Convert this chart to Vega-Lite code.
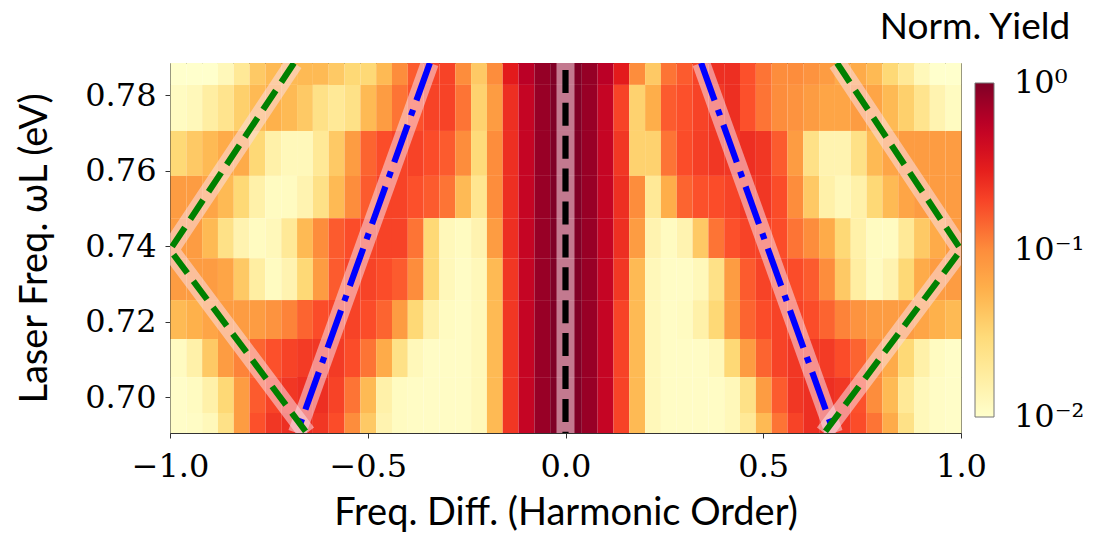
{
  "$schema": "https://vega.github.io/schema/vega-lite/v6.json",
  "width": 791,
  "height": 370,
  "autosize": {"type": "none"},
  "padding": {"left": 170, "top": 63, "right": 136, "bottom": 100},
  "background": "white",
  "config": {
    "view": {"stroke": "#333333", "strokeWidth": 1},
    "font": "Lato"
  },
  "datasets": {
    "bands": [
      {"r": 1, "y0": 0.7827, "y1": 0.7885},
      {"r": 2, "y0": 0.7705, "y1": 0.7827},
      {"r": 3, "y0": 0.7586, "y1": 0.7705},
      {"r": 4, "y0": 0.7474, "y1": 0.7586},
      {"r": 5, "y0": 0.7368, "y1": 0.7474},
      {"r": 6, "y0": 0.7257, "y1": 0.7368},
      {"r": 7, "y0": 0.7154, "y1": 0.7257},
      {"r": 8, "y0": 0.7053, "y1": 0.7154},
      {"r": 9, "y0": 0.6958, "y1": 0.7053},
      {"r": 10, "y0": 0.6905, "y1": 0.6958}
    ],
    "guides": [
      {"line": "c", "kind": "zero", "i": 0, "x": 0, "y": 0.7885},
      {"line": "c", "kind": "zero", "i": 1, "x": 0, "y": 0.6905},
      {"line": "bl", "kind": "inner", "i": 0, "x": -0.343, "y": 0.7885},
      {"line": "bl", "kind": "inner", "i": 1, "x": -0.679, "y": 0.6905},
      {"line": "br", "kind": "inner", "i": 0, "x": 0.343, "y": 0.7885},
      {"line": "br", "kind": "inner", "i": 1, "x": 0.679, "y": 0.6905},
      {"line": "gl", "kind": "outer", "i": 0, "x": -0.6865, "y": 0.7885},
      {"line": "gl", "kind": "outer", "i": 1, "x": -1, "y": 0.739},
      {"line": "gl", "kind": "outer", "i": 2, "x": -0.654, "y": 0.6905},
      {"line": "gr", "kind": "outer", "i": 0, "x": 0.6865, "y": 0.7885},
      {"line": "gr", "kind": "outer", "i": 1, "x": 1, "y": 0.739},
      {"line": "gr", "kind": "outer", "i": 2, "x": 0.654, "y": 0.6905}
    ]
  },
  "data": {"values": [
    {"r":1,"x":-0.98,"v":0.01},{"r":1,"x":-0.94,"v":0.01},{"r":1,"x":-0.9,"v":0.01},{"r":1,"x":-0.86,"v":0.0126},{"r":1,"x":-0.82,"v":0.02},{"r":1,"x":-0.78,"v":0.0398},{"r":1,"x":-0.74,"v":0.0501},{"r":1,"x":-0.7,"v":0.0501},{"r":1,"x":-0.66,"v":0.0501},{"r":1,"x":-0.62,"v":0.0501},
    {"r":1,"x":-0.58,"v":0.0398},{"r":1,"x":-0.54,"v":0.0316},{"r":1,"x":-0.5,"v":0.0316},{"r":1,"x":-0.46,"v":0.0501},{"r":1,"x":-0.42,"v":0.1},{"r":1,"x":-0.38,"v":0.158},{"r":1,"x":-0.34,"v":0.2},{"r":1,"x":-0.3,"v":0.2},{"r":1,"x":-0.26,"v":0.1},{"r":1,"x":-0.22,"v":0.04},
    {"r":1,"x":-0.18,"v":0.1},{"r":1,"x":-0.14,"v":0.316},{"r":1,"x":-0.1,"v":0.575},{"r":1,"x":-0.06,"v":0.82},{"r":1,"x":-0.02,"v":1},{"r":1,"x":0.02,"v":1},{"r":1,"x":0.06,"v":0.82},{"r":1,"x":0.1,"v":0.575},{"r":1,"x":0.14,"v":0.316},{"r":1,"x":0.18,"v":0.1},
    {"r":1,"x":0.22,"v":0.04},{"r":1,"x":0.26,"v":0.126},{"r":1,"x":0.3,"v":0.158},{"r":1,"x":0.34,"v":0.2},{"r":1,"x":0.38,"v":0.251},{"r":1,"x":0.42,"v":0.251},{"r":1,"x":0.46,"v":0.174},{"r":1,"x":0.5,"v":0.126},{"r":1,"x":0.54,"v":0.1},{"r":1,"x":0.58,"v":0.1},
    {"r":1,"x":0.62,"v":0.0912},{"r":1,"x":0.66,"v":0.0794},{"r":1,"x":0.7,"v":0.0631},{"r":1,"x":0.74,"v":0.0631},{"r":1,"x":0.78,"v":0.0501},{"r":1,"x":0.82,"v":0.0316},{"r":1,"x":0.86,"v":0.02},{"r":1,"x":0.9,"v":0.0126},{"r":1,"x":0.94,"v":0.01},{"r":1,"x":0.98,"v":0.01},

    {"r":2,"x":-0.98,"v":0.0115},{"r":2,"x":-0.94,"v":0.0126},{"r":2,"x":-0.9,"v":0.0174},{"r":2,"x":-0.86,"v":0.0229},{"r":2,"x":-0.82,"v":0.0363},{"r":2,"x":-0.78,"v":0.0501},{"r":2,"x":-0.74,"v":0.0575},{"r":2,"x":-0.7,"v":0.0501},{"r":2,"x":-0.66,"v":0.0398},{"r":2,"x":-0.62,"v":0.0251},
    {"r":2,"x":-0.58,"v":0.02},{"r":2,"x":-0.54,"v":0.0251},{"r":2,"x":-0.5,"v":0.0501},{"r":2,"x":-0.46,"v":0.0794},{"r":2,"x":-0.42,"v":0.126},{"r":2,"x":-0.38,"v":0.174},{"r":2,"x":-0.34,"v":0.2},{"r":2,"x":-0.3,"v":0.2},{"r":2,"x":-0.26,"v":0.126},{"r":2,"x":-0.22,"v":0.035},
    {"r":2,"x":-0.18,"v":0.0794},{"r":2,"x":-0.14,"v":0.251},{"r":2,"x":-0.1,"v":0.5},{"r":2,"x":-0.06,"v":0.8},{"r":2,"x":-0.02,"v":1},{"r":2,"x":0.02,"v":1},{"r":2,"x":0.06,"v":0.8},{"r":2,"x":0.1,"v":0.5},{"r":2,"x":0.14,"v":0.2},{"r":2,"x":0.18,"v":0.035},
    {"r":2,"x":0.22,"v":0.06},{"r":2,"x":0.26,"v":0.158},{"r":2,"x":0.3,"v":0.174},{"r":2,"x":0.34,"v":0.2},{"r":2,"x":0.38,"v":0.229},{"r":2,"x":0.42,"v":0.251},{"r":2,"x":0.46,"v":0.174},{"r":2,"x":0.5,"v":0.126},{"r":2,"x":0.54,"v":0.1},{"r":2,"x":0.58,"v":0.0912},
    {"r":2,"x":0.62,"v":0.0794},{"r":2,"x":0.66,"v":0.0692},{"r":2,"x":0.7,"v":0.0692},{"r":2,"x":0.74,"v":0.0794},{"r":2,"x":0.78,"v":0.0692},{"r":2,"x":0.82,"v":0.0501},{"r":2,"x":0.86,"v":0.0363},{"r":2,"x":0.9,"v":0.0229},{"r":2,"x":0.94,"v":0.0145},{"r":2,"x":0.98,"v":0.0115},

    {"r":3,"x":-0.98,"v":0.0316},{"r":3,"x":-0.94,"v":0.0398},{"r":3,"x":-0.9,"v":0.0501},{"r":3,"x":-0.86,"v":0.0631},{"r":3,"x":-0.82,"v":0.0631},{"r":3,"x":-0.78,"v":0.0316},{"r":3,"x":-0.74,"v":0.0158},{"r":3,"x":-0.7,"v":0.0126},{"r":3,"x":-0.66,"v":0.0126},{"r":3,"x":-0.62,"v":0.02},
    {"r":3,"x":-0.58,"v":0.0398},{"r":3,"x":-0.54,"v":0.0794},{"r":3,"x":-0.5,"v":0.145},{"r":3,"x":-0.46,"v":0.182},{"r":3,"x":-0.42,"v":0.2},{"r":3,"x":-0.38,"v":0.2},{"r":3,"x":-0.34,"v":0.182},{"r":3,"x":-0.3,"v":0.158},{"r":3,"x":-0.26,"v":0.1},{"r":3,"x":-0.22,"v":0.03},
    {"r":3,"x":-0.18,"v":0.1},{"r":3,"x":-0.14,"v":0.251},{"r":3,"x":-0.1,"v":0.5},{"r":3,"x":-0.06,"v":0.8},{"r":3,"x":-0.02,"v":1},{"r":3,"x":0.02,"v":1},{"r":3,"x":0.06,"v":0.8},{"r":3,"x":0.1,"v":0.5},{"r":3,"x":0.14,"v":0.229},{"r":3,"x":0.18,"v":0.035},
    {"r":3,"x":0.22,"v":0.035},{"r":3,"x":0.26,"v":0.126},{"r":3,"x":0.3,"v":0.182},{"r":3,"x":0.34,"v":0.209},{"r":3,"x":0.38,"v":0.229},{"r":3,"x":0.42,"v":0.229},{"r":3,"x":0.46,"v":0.251},{"r":3,"x":0.5,"v":0.229},{"r":3,"x":0.54,"v":0.158},{"r":3,"x":0.58,"v":0.0794},
    {"r":3,"x":0.62,"v":0.0251},{"r":3,"x":0.66,"v":0.0145},{"r":3,"x":0.7,"v":0.0145},{"r":3,"x":0.74,"v":0.0251},{"r":3,"x":0.78,"v":0.0501},{"r":3,"x":0.82,"v":0.0692},{"r":3,"x":0.86,"v":0.0794},{"r":3,"x":0.9,"v":0.0794},{"r":3,"x":0.94,"v":0.0794},{"r":3,"x":0.98,"v":0.0794},

    {"r":4,"x":-0.98,"v":0.0794},{"r":4,"x":-0.94,"v":0.0794},{"r":4,"x":-0.9,"v":0.0692},{"r":4,"x":-0.86,"v":0.0501},{"r":4,"x":-0.82,"v":0.0316},{"r":4,"x":-0.78,"v":0.0158},{"r":4,"x":-0.74,"v":0.0115},{"r":4,"x":-0.7,"v":0.0115},{"r":4,"x":-0.66,"v":0.0145},{"r":4,"x":-0.62,"v":0.0251},
    {"r":4,"x":-0.58,"v":0.0501},{"r":4,"x":-0.54,"v":0.1},{"r":4,"x":-0.5,"v":0.158},{"r":4,"x":-0.46,"v":0.2},{"r":4,"x":-0.42,"v":0.2},{"r":4,"x":-0.38,"v":0.174},{"r":4,"x":-0.34,"v":0.158},{"r":4,"x":-0.3,"v":0.126},{"r":4,"x":-0.26,"v":0.05},{"r":4,"x":-0.22,"v":0.022},
    {"r":4,"x":-0.18,"v":0.1},{"r":4,"x":-0.14,"v":0.251},{"r":4,"x":-0.1,"v":0.5},{"r":4,"x":-0.06,"v":0.8},{"r":4,"x":-0.02,"v":1},{"r":4,"x":0.02,"v":1},{"r":4,"x":0.06,"v":0.8},{"r":4,"x":0.1,"v":0.5},{"r":4,"x":0.14,"v":0.251},{"r":4,"x":0.18,"v":0.1},
    {"r":4,"x":0.22,"v":0.02},{"r":4,"x":0.26,"v":0.06},{"r":4,"x":0.3,"v":0.145},{"r":4,"x":0.34,"v":0.174},{"r":4,"x":0.38,"v":0.182},{"r":4,"x":0.42,"v":0.2},{"r":4,"x":0.46,"v":0.229},{"r":4,"x":0.5,"v":0.229},{"r":4,"x":0.54,"v":0.182},{"r":4,"x":0.58,"v":0.1},
    {"r":4,"x":0.62,"v":0.0398},{"r":4,"x":0.66,"v":0.0158},{"r":4,"x":0.7,"v":0.0126},{"r":4,"x":0.74,"v":0.0158},{"r":4,"x":0.78,"v":0.0316},{"r":4,"x":0.82,"v":0.0501},{"r":4,"x":0.86,"v":0.0692},{"r":4,"x":0.9,"v":0.0794},{"r":4,"x":0.94,"v":0.0794},{"r":4,"x":0.98,"v":0.0794},

    {"r":5,"x":-0.98,"v":0.0794},{"r":5,"x":-0.94,"v":0.0794},{"r":5,"x":-0.9,"v":0.0501},{"r":5,"x":-0.86,"v":0.0251},{"r":5,"x":-0.82,"v":0.0145},{"r":5,"x":-0.78,"v":0.0115},{"r":5,"x":-0.74,"v":0.0126},{"r":5,"x":-0.7,"v":0.02},{"r":5,"x":-0.66,"v":0.0501},{"r":5,"x":-0.62,"v":0.1},
    {"r":5,"x":-0.58,"v":0.158},{"r":5,"x":-0.54,"v":0.182},{"r":5,"x":-0.5,"v":0.2},{"r":5,"x":-0.46,"v":0.2},{"r":5,"x":-0.42,"v":0.2},{"r":5,"x":-0.38,"v":0.126},{"r":5,"x":-0.34,"v":0.0316},{"r":5,"x":-0.3,"v":0.0126},{"r":5,"x":-0.26,"v":0.0115},{"r":5,"x":-0.22,"v":0.0145},
    {"r":5,"x":-0.18,"v":0.0794},{"r":5,"x":-0.14,"v":0.251},{"r":5,"x":-0.1,"v":0.5},{"r":5,"x":-0.06,"v":0.8},{"r":5,"x":-0.02,"v":1},{"r":5,"x":0.02,"v":1},{"r":5,"x":0.06,"v":0.8},{"r":5,"x":0.1,"v":0.5},{"r":5,"x":0.14,"v":0.251},{"r":5,"x":0.18,"v":0.0794},
    {"r":5,"x":0.22,"v":0.0145},{"r":5,"x":0.26,"v":0.0115},{"r":5,"x":0.3,"v":0.0145},{"r":5,"x":0.34,"v":0.0398},{"r":5,"x":0.38,"v":0.126},{"r":5,"x":0.42,"v":0.174},{"r":5,"x":0.46,"v":0.2},{"r":5,"x":0.5,"v":0.2},{"r":5,"x":0.54,"v":0.182},{"r":5,"x":0.58,"v":0.126},
    {"r":5,"x":0.62,"v":0.1},{"r":5,"x":0.66,"v":0.0631},{"r":5,"x":0.7,"v":0.0316},{"r":5,"x":0.74,"v":0.0158},{"r":5,"x":0.78,"v":0.0115},{"r":5,"x":0.82,"v":0.0115},{"r":5,"x":0.86,"v":0.02},{"r":5,"x":0.9,"v":0.0398},{"r":5,"x":0.94,"v":0.0631},{"r":5,"x":0.98,"v":0.0794},

    {"r":6,"x":-0.98,"v":0.0794},{"r":6,"x":-0.94,"v":0.0794},{"r":6,"x":-0.9,"v":0.0794},{"r":6,"x":-0.86,"v":0.0692},{"r":6,"x":-0.82,"v":0.0398},{"r":6,"x":-0.78,"v":0.0174},{"r":6,"x":-0.74,"v":0.0115},{"r":6,"x":-0.7,"v":0.0145},{"r":6,"x":-0.66,"v":0.0316},{"r":6,"x":-0.62,"v":0.0794},
    {"r":6,"x":-0.58,"v":0.158},{"r":6,"x":-0.54,"v":0.2},{"r":6,"x":-0.5,"v":0.2},{"r":6,"x":-0.46,"v":0.182},{"r":6,"x":-0.42,"v":0.158},{"r":6,"x":-0.38,"v":0.1},{"r":6,"x":-0.34,"v":0.0316},{"r":6,"x":-0.3,"v":0.0126},{"r":6,"x":-0.26,"v":0.011},{"r":6,"x":-0.22,"v":0.0126},
    {"r":6,"x":-0.18,"v":0.0501},{"r":6,"x":-0.14,"v":0.229},{"r":6,"x":-0.1,"v":0.5},{"r":6,"x":-0.06,"v":0.8},{"r":6,"x":-0.02,"v":1},{"r":6,"x":0.02,"v":1},{"r":6,"x":0.06,"v":0.8},{"r":6,"x":0.1,"v":0.5},{"r":6,"x":0.14,"v":0.229},{"r":6,"x":0.18,"v":0.0501},
    {"r":6,"x":0.22,"v":0.0126},{"r":6,"x":0.26,"v":0.011},{"r":6,"x":0.3,"v":0.011},{"r":6,"x":0.34,"v":0.0126},{"r":6,"x":0.38,"v":0.0251},{"r":6,"x":0.42,"v":0.0794},{"r":6,"x":0.46,"v":0.158},{"r":6,"x":0.5,"v":0.2},{"r":6,"x":0.54,"v":0.2},{"r":6,"x":0.58,"v":0.182},
    {"r":6,"x":0.62,"v":0.158},{"r":6,"x":0.66,"v":0.1},{"r":6,"x":0.7,"v":0.0398},{"r":6,"x":0.74,"v":0.0174},{"r":6,"x":0.78,"v":0.0115},{"r":6,"x":0.82,"v":0.0145},{"r":6,"x":0.86,"v":0.0316},{"r":6,"x":0.9,"v":0.0631},{"r":6,"x":0.94,"v":0.0794},{"r":6,"x":0.98,"v":0.0794},

    {"r":7,"x":-0.98,"v":0.0501},{"r":7,"x":-0.94,"v":0.0575},{"r":7,"x":-0.9,"v":0.0692},{"r":7,"x":-0.86,"v":0.0794},{"r":7,"x":-0.82,"v":0.0794},{"r":7,"x":-0.78,"v":0.0794},{"r":7,"x":-0.74,"v":0.0912},{"r":7,"x":-0.7,"v":0.11},{"r":7,"x":-0.66,"v":0.145},{"r":7,"x":-0.62,"v":0.182},
    {"r":7,"x":-0.58,"v":0.2},{"r":7,"x":-0.54,"v":0.2},{"r":7,"x":-0.5,"v":0.182},{"r":7,"x":-0.46,"v":0.145},{"r":7,"x":-0.42,"v":0.0794},{"r":7,"x":-0.38,"v":0.0316},{"r":7,"x":-0.34,"v":0.0158},{"r":7,"x":-0.3,"v":0.0115},{"r":7,"x":-0.26,"v":0.011},{"r":7,"x":-0.22,"v":0.0126},
    {"r":7,"x":-0.18,"v":0.0501},{"r":7,"x":-0.14,"v":0.229},{"r":7,"x":-0.1,"v":0.5},{"r":7,"x":-0.06,"v":0.8},{"r":7,"x":-0.02,"v":1},{"r":7,"x":0.02,"v":1},{"r":7,"x":0.06,"v":0.8},{"r":7,"x":0.1,"v":0.5},{"r":7,"x":0.14,"v":0.2},{"r":7,"x":0.18,"v":0.0501},
    {"r":7,"x":0.22,"v":0.0126},{"r":7,"x":0.26,"v":0.011},{"r":7,"x":0.3,"v":0.0115},{"r":7,"x":0.34,"v":0.0158},{"r":7,"x":0.38,"v":0.0316},{"r":7,"x":0.42,"v":0.0794},{"r":7,"x":0.46,"v":0.145},{"r":7,"x":0.5,"v":0.182},{"r":7,"x":0.54,"v":0.2},{"r":7,"x":0.58,"v":0.2},
    {"r":7,"x":0.62,"v":0.182},{"r":7,"x":0.66,"v":0.145},{"r":7,"x":0.7,"v":0.11},{"r":7,"x":0.74,"v":0.0912},{"r":7,"x":0.78,"v":0.0794},{"r":7,"x":0.82,"v":0.0794},{"r":7,"x":0.86,"v":0.0794},{"r":7,"x":0.9,"v":0.0692},{"r":7,"x":0.94,"v":0.0575},{"r":7,"x":0.98,"v":0.0501},

    {"r":8,"x":-0.98,"v":0.0115},{"r":8,"x":-0.94,"v":0.0158},{"r":8,"x":-0.9,"v":0.0398},{"r":8,"x":-0.86,"v":0.0794},{"r":8,"x":-0.82,"v":0.11},{"r":8,"x":-0.78,"v":0.145},{"r":8,"x":-0.74,"v":0.174},{"r":8,"x":-0.7,"v":0.2},{"r":8,"x":-0.66,"v":0.219},{"r":8,"x":-0.62,"v":0.229},
    {"r":8,"x":-0.58,"v":0.219},{"r":8,"x":-0.54,"v":0.182},{"r":8,"x":-0.5,"v":0.126},{"r":8,"x":-0.46,"v":0.0631},{"r":8,"x":-0.42,"v":0.0251},{"r":8,"x":-0.38,"v":0.0126},{"r":8,"x":-0.34,"v":0.011},{"r":8,"x":-0.3,"v":0.011},{"r":8,"x":-0.26,"v":0.011},{"r":8,"x":-0.22,"v":0.0126},
    {"r":8,"x":-0.18,"v":0.0501},{"r":8,"x":-0.14,"v":0.229},{"r":8,"x":-0.1,"v":0.5},{"r":8,"x":-0.06,"v":0.8},{"r":8,"x":-0.02,"v":1},{"r":8,"x":0.02,"v":1},{"r":8,"x":0.06,"v":0.8},{"r":8,"x":0.1,"v":0.5},{"r":8,"x":0.14,"v":0.2},{"r":8,"x":0.18,"v":0.0501},
    {"r":8,"x":0.22,"v":0.0126},{"r":8,"x":0.26,"v":0.011},{"r":8,"x":0.3,"v":0.011},{"r":8,"x":0.34,"v":0.011},{"r":8,"x":0.38,"v":0.0126},{"r":8,"x":0.42,"v":0.0316},{"r":8,"x":0.46,"v":0.0794},{"r":8,"x":0.5,"v":0.145},{"r":8,"x":0.54,"v":0.2},{"r":8,"x":0.58,"v":0.229},
    {"r":8,"x":0.62,"v":0.229},{"r":8,"x":0.66,"v":0.219},{"r":8,"x":0.7,"v":0.182},{"r":8,"x":0.74,"v":0.145},{"r":8,"x":0.78,"v":0.1},{"r":8,"x":0.82,"v":0.0631},{"r":8,"x":0.86,"v":0.0316},{"r":8,"x":0.9,"v":0.0158},{"r":8,"x":0.94,"v":0.0115},{"r":8,"x":0.98,"v":0.0105},

    {"r":9,"x":-0.98,"v":0.0105},{"r":9,"x":-0.94,"v":0.0115},{"r":9,"x":-0.9,"v":0.0158},{"r":9,"x":-0.86,"v":0.0316},{"r":9,"x":-0.82,"v":0.0794},{"r":9,"x":-0.78,"v":0.158},{"r":9,"x":-0.74,"v":0.2},{"r":9,"x":-0.7,"v":0.229},{"r":9,"x":-0.66,"v":0.251},{"r":9,"x":-0.62,"v":0.251},
    {"r":9,"x":-0.58,"v":0.2},{"r":9,"x":-0.54,"v":0.126},{"r":9,"x":-0.5,"v":0.0501},{"r":9,"x":-0.46,"v":0.0158},{"r":9,"x":-0.42,"v":0.0115},{"r":9,"x":-0.38,"v":0.011},{"r":9,"x":-0.34,"v":0.011},{"r":9,"x":-0.3,"v":0.011},{"r":9,"x":-0.26,"v":0.011},{"r":9,"x":-0.22,"v":0.0126},
    {"r":9,"x":-0.18,"v":0.0501},{"r":9,"x":-0.14,"v":0.229},{"r":9,"x":-0.1,"v":0.5},{"r":9,"x":-0.06,"v":0.8},{"r":9,"x":-0.02,"v":1},{"r":9,"x":0.02,"v":1},{"r":9,"x":0.06,"v":0.8},{"r":9,"x":0.1,"v":0.5},{"r":9,"x":0.14,"v":0.2},{"r":9,"x":0.18,"v":0.0501},
    {"r":9,"x":0.22,"v":0.0126},{"r":9,"x":0.26,"v":0.011},{"r":9,"x":0.3,"v":0.011},{"r":9,"x":0.34,"v":0.011},{"r":9,"x":0.38,"v":0.011},{"r":9,"x":0.42,"v":0.0126},{"r":9,"x":0.46,"v":0.0251},{"r":9,"x":0.5,"v":0.0794},{"r":9,"x":0.54,"v":0.158},{"r":9,"x":0.58,"v":0.229},
    {"r":9,"x":0.62,"v":0.251},{"r":9,"x":0.66,"v":0.251},{"r":9,"x":0.7,"v":0.229},{"r":9,"x":0.74,"v":0.174},{"r":9,"x":0.78,"v":0.1},{"r":9,"x":0.82,"v":0.0501},{"r":9,"x":0.86,"v":0.02},{"r":9,"x":0.9,"v":0.0126},{"r":9,"x":0.94,"v":0.011},{"r":9,"x":0.98,"v":0.0105},

    {"r":10,"x":-0.98,"v":0.0105},{"r":10,"x":-0.94,"v":0.011},{"r":10,"x":-0.9,"v":0.0126},{"r":10,"x":-0.86,"v":0.0251},{"r":10,"x":-0.82,"v":0.0794},{"r":10,"x":-0.78,"v":0.174},{"r":10,"x":-0.74,"v":0.229},{"r":10,"x":-0.7,"v":0.251},{"r":10,"x":-0.66,"v":0.251},{"r":10,"x":-0.62,"v":0.229},
    {"r":10,"x":-0.58,"v":0.182},{"r":10,"x":-0.54,"v":0.1},{"r":10,"x":-0.5,"v":0.0398},{"r":10,"x":-0.46,"v":0.0145},{"r":10,"x":-0.42,"v":0.0115},{"r":10,"x":-0.38,"v":0.011},{"r":10,"x":-0.34,"v":0.011},{"r":10,"x":-0.3,"v":0.011},{"r":10,"x":-0.26,"v":0.011},{"r":10,"x":-0.22,"v":0.0126},
    {"r":10,"x":-0.18,"v":0.0501},{"r":10,"x":-0.14,"v":0.229},{"r":10,"x":-0.1,"v":0.5},{"r":10,"x":-0.06,"v":0.8},{"r":10,"x":-0.02,"v":1},{"r":10,"x":0.02,"v":1},{"r":10,"x":0.06,"v":0.8},{"r":10,"x":0.1,"v":0.5},{"r":10,"x":0.14,"v":0.2},{"r":10,"x":0.18,"v":0.0501},
    {"r":10,"x":0.22,"v":0.0126},{"r":10,"x":0.26,"v":0.011},{"r":10,"x":0.3,"v":0.011},{"r":10,"x":0.34,"v":0.011},{"r":10,"x":0.38,"v":0.011},{"r":10,"x":0.42,"v":0.0126},{"r":10,"x":0.46,"v":0.02},{"r":10,"x":0.5,"v":0.0501},{"r":10,"x":0.54,"v":0.126},{"r":10,"x":0.58,"v":0.2},
    {"r":10,"x":0.62,"v":0.251},{"r":10,"x":0.66,"v":0.251},{"r":10,"x":0.7,"v":0.229},{"r":10,"x":0.74,"v":0.182},{"r":10,"x":0.78,"v":0.126},{"r":10,"x":0.82,"v":0.0631},{"r":10,"x":0.86,"v":0.0251},{"r":10,"x":0.9,"v":0.0126},{"r":10,"x":0.94,"v":0.011},{"r":10,"x":0.98,"v":0.0105}
  ]},
  "layer": [
    {
      "transform": [
        {"lookup": "r", "from": {"data": {"name": "bands"}, "key": "r", "fields": ["y0", "y1"]}}
      ],
      "mark": {"type": "rect", "binSpacing": 0},
      "encoding": {
        "x": {
          "field": "x", "type": "quantitative",
          "bin": {"step": 0.04, "extent": [-1, 1]},
          "scale": {"domain": [-1, 1], "nice": false, "zero": false},
          "title": "Freq. Diff. (Harmonic Order)",
          "axis": {
            "values": [-1, -0.5, 0, 0.5, 1],
            "format": ".1f",
            "grid": false, "domain": false,
            "tickSize": 5, "tickColor": "#333333", "tickWidth": 1,
            "labelFont": "DejaVu Serif", "labelFontSize": 32, "labelColor": "black",
            "labelPadding": 13, "labelFlush": false, "labelOverlap": false,
            "titleFont": "Lato", "titleFontSize": 38, "titleFontWeight": "normal", "titleColor": "black",
            "titlePadding": 12
          }
        },
        "y": {
          "field": "y0", "type": "quantitative",
          "scale": {"domain": [0.6905, 0.7885], "nice": false, "zero": false},
          "title": "Laser Freq. ωL (eV)",
          "axis": {
            "values": [0.7, 0.72, 0.74, 0.76, 0.78],
            "format": ".2f",
            "grid": false, "domain": false,
            "tickSize": 5, "tickColor": "#333333", "tickWidth": 1,
            "labelFont": "DejaVu Serif", "labelFontSize": 32, "labelColor": "black",
            "labelPadding": 9, "labelOverlap": false,
            "titleFont": "Lato", "titleFontSize": 38, "titleFontWeight": "normal", "titleColor": "black",
            "titlePadding": 30
          }
        },
        "y2": {"field": "y1"},
        "color": {
          "field": "v", "type": "quantitative",
          "scale": {
            "type": "log",
            "domain": [0.01, 0.01778, 0.03162, 0.05623, 0.1, 0.1778, 0.3162, 0.5623, 1],
            "range": ["#ffffcc", "#ffeda0", "#fed976", "#feb24c", "#fd8d3c", "#fc4e2a", "#e31a1c", "#bd0026", "#800026"],
            "interpolate": "rgb",
            "clamp": true
          },
          "legend": {
            "title": "Norm. Yield",
            "orient": "none", "legendX": 709, "legendY": -53,
            "direction": "vertical",
            "gradientLength": 334, "gradientThickness": 19,
            "gradientStrokeColor": "#777777", "gradientStrokeWidth": 1,
            "values": [0.01, 0.1, 1],
            "labelExpr": "datum.value > 0.5 ? '10⁰' : datum.value > 0.05 ? '10⁻¹' : '10⁻²'",
            "labelFont": "DejaVu Serif", "labelFontSize": 32, "labelColor": "black",
            "labelOffset": 20, "labelOverlap": false,
            "titleFont": "Lato", "titleFontSize": 37, "titleFontWeight": "normal", "titleColor": "black",
            "titleAnchor": "start", "titleAlign": "center", "titlePadding": 36, "titleLimit": 400,
            "encode": {"labels": {"update": {"baseline": {"value": "middle"}}}}
          }
        }
      }
    },
    {
      "data": {"name": "guides"},
      "mark": {"type": "line", "color": "#fadce6", "opacity": 0.55, "strokeWidth": 18, "strokeCap": "butt", "strokeJoin": "round", "clip": true},
      "encoding": {
        "x": {"field": "x", "type": "quantitative", "title": "Freq. Diff. (Harmonic Order)"},
        "y": {"field": "y", "type": "quantitative", "title": "Laser Freq. ωL (eV)"},
        "detail": {"field": "line"},
        "order": {"field": "i"}
      }
    },
    {
      "data": {"name": "guides"},
      "transform": [{"filter": "datum.kind == 'zero'"}],
      "mark": {"type": "line", "color": "black", "strokeWidth": 6.2, "strokeCap": "butt", "strokeDash": [23, 9.9], "strokeDashOffset": 26, "clip": true},
      "encoding": {
        "x": {"field": "x", "type": "quantitative", "title": "Freq. Diff. (Harmonic Order)"},
        "y": {"field": "y", "type": "quantitative", "title": "Laser Freq. ωL (eV)"},
        "detail": {"field": "line"},
        "order": {"field": "i"}
      }
    },
    {
      "data": {"name": "guides"},
      "transform": [{"filter": "datum.kind == 'inner'"}],
      "mark": {"type": "line", "color": "#0000ff", "strokeWidth": 6.2, "strokeCap": "butt", "strokeDash": [39.7, 9.9, 6.2, 9.9], "clip": true},
      "encoding": {
        "x": {"field": "x", "type": "quantitative", "title": "Freq. Diff. (Harmonic Order)"},
        "y": {"field": "y", "type": "quantitative", "title": "Laser Freq. ωL (eV)"},
        "detail": {"field": "line"},
        "order": {"field": "i"}
      }
    },
    {
      "data": {"name": "guides"},
      "transform": [{"filter": "datum.kind == 'outer'"}],
      "mark": {"type": "line", "color": "#008000", "strokeWidth": 6.2, "strokeCap": "butt", "strokeDash": [23, 9.9], "clip": true},
      "encoding": {
        "x": {"field": "x", "type": "quantitative", "title": "Freq. Diff. (Harmonic Order)"},
        "y": {"field": "y", "type": "quantitative", "title": "Laser Freq. ωL (eV)"},
        "detail": {"field": "line"},
        "order": {"field": "i"}
      }
    }
  ]
}
